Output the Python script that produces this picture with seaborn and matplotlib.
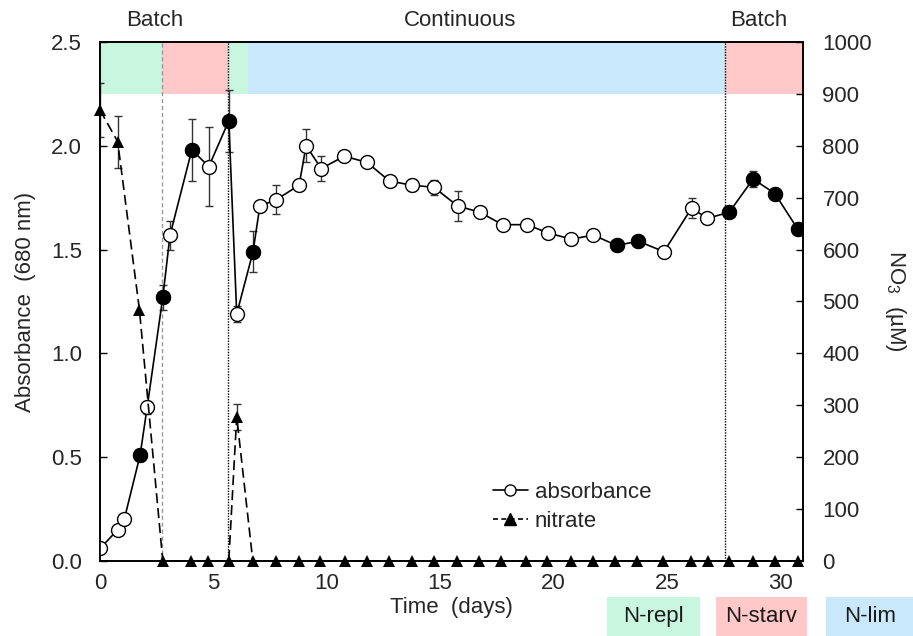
import numpy as np
import pandas as pd
from matplotlib import pyplot as plt
from matplotlib.lines import Line2D
from matplotlib.patches import Rectangle
import seaborn as sns

# absorbance (680 nm)
t_abs = [0, 0.78, 1.07, 1.77, 2.08, 2.77, 3.09, 4.05, 4.8, 5.68, 6.03, 6.75, 7.05, 7.77, 8.78,
         9.09, 9.76, 10.77, 11.77, 12.77, 13.76, 14.73, 15.77, 16.75, 17.75, 18.83, 19.76, 20.79,
         21.75, 22.78, 23.74, 24.87, 26.09, 26.78, 27.75, 28.8, 29.76, 30.76]
absorbance = [0.06, 0.15, 0.20, 0.51, 0.74, 1.27, 1.57, 1.98, 1.90, 2.12, 1.19, 1.49, 1.71, 1.74, 1.81,
              2.00, 1.89, 1.95, 1.92, 1.83, 1.81, 1.80, 1.71, 1.68, 1.62, 1.62, 1.58, 1.55,
              1.57, 1.52, 1.54, 1.49, 1.70, 1.65, 1.68, 1.84, 1.77, 1.60]
abs_err = [0, 0, 0, 0.03, 0.03, 0.06, 0.07, 0.15, 0.19, 0.15, 0.04, 0.10, 0, 0.07, 0,
           0.08, 0.06, 0, 0, 0, 0.03, 0.035, 0.07, 0.02, 0.02, 0, 0, 0,
           0, 0, 0, 0, 0.05, 0.02, 0, 0.04, 0, 0]
abs_filled = [0, 0, 0, 1, 0, 1, 0, 1, 0, 1, 0, 1, 0, 0, 0,
              0, 0, 0, 0, 0, 0, 0, 0, 0, 0, 0, 0, 0,
              0, 1, 1, 0, 0, 0, 1, 1, 1, 1]

# nitrate (uM)
t_no3 = [0, 0.78, 1.74, 2.77, 4.02, 4.78, 5.68, 6.03, 6.74, 7.77, 8.77, 9.72, 10.79, 11.77,
         12.73, 13.76, 14.72, 15.75, 16.73, 17.7, 18.79, 19.72, 20.79, 21.75, 22.71, 23.69,
         24.82, 26.05, 26.83, 27.74, 28.8, 29.77, 30.76]
nitrate = [869, 808, 484, 0, 0, 0, 0, 278, 0, 0, 0, 0, 0, 0,
           0, 0, 0, 0, 0, 0, 0, 0, 0, 0, 0, 0,
           0, 0, 0, 0, 0, 0, 0]
no3_err = [52, 50, 0, 0, 0, 0, 0, 25, 0, 0, 0, 0, 0, 0,
           0, 0, 0, 0, 0, 0, 0, 0, 0, 0, 0, 0,
           0, 0, 0, 0, 0, 0, 0]

# phases
phase_start = [0, 2.74, 5.65, 6.53, 27.55]
phase_end = [2.74, 5.65, 6.53, 27.55, 31]
phase_kind = ["N-repl", "N-starv", "N-repl", "N-lim", "N-starv"]
phase_colors = {"N-repl": "#c9f6de", "N-starv": "#ffc9c9", "N-lim": "#c9e8fb"}
mode_labels = ["Batch", "Continuous", "Batch"]
mode_x = [2.4, 15.9, 29.05]

df_abs = pd.DataFrame({"t": t_abs, "abs": absorbance, "err": abs_err, "filled": abs_filled})
df_no3 = pd.DataFrame({"t": t_no3, "no3": nitrate, "err": no3_err})

sns.set_style("white")
plt.rcParams["font.family"] = ["Liberation Sans", "DejaVu Sans"]
plt.rcParams["font.size"] = 16
plt.rcParams["mathtext.fontset"] = "custom"
plt.rcParams["mathtext.rm"] = "Liberation Sans"
plt.rcParams["mathtext.it"] = "Liberation Sans:italic"

FS = 16

fig = plt.figure(figsize=(9.13, 6.36), dpi=100)
ax = fig.add_axes([0.1095, 0.118, 0.77, 0.816])
ax2 = ax.twinx()

for x0, x1, k in zip(phase_start, phase_end, phase_kind):
    ax.axvspan(x0, x1, ymin=0.9, ymax=1, color=phase_colors[k], lw=0, zorder=0)
ax.axvline(2.74, color="#999999", lw=1, ls=(0, (3, 2)), zorder=1)
ax.axvline(5.65, color="black", lw=1, ls=(0, (1, 1)), zorder=1)
ax.axvline(27.55, color="black", lw=1, ls=(0, (1, 1)), zorder=1)

# absorbance
e = df_abs[df_abs["err"] > 0]
ax.errorbar(e["t"], e["abs"], yerr=e["err"], fmt="none", ecolor="#333333", elinewidth=1,
            capsize=3, capthick=1, zorder=2)
sns.lineplot(data=df_abs, x="t", y="abs", ax=ax, color="black", lw=1.2, marker="o",
             markersize=10, markerfacecolor="white", markeredgecolor="black",
             markeredgewidth=1, estimator=None, sort=False, zorder=3)
f = df_abs[df_abs["filled"] == 1]
ax.plot(f["t"], f["abs"], ls="none", marker="o", markersize=10, color="black", zorder=4)

# nitrate
e2 = df_no3[df_no3["err"] > 0]
ax2.errorbar(e2["t"], e2["no3"], yerr=e2["err"], fmt="none", ecolor="#333333", elinewidth=1,
             capsize=3, capthick=1, zorder=2)
sns.lineplot(data=df_no3, x="t", y="no3", ax=ax2, color="black", lw=1.2, ls=(0, (6, 3)),
             marker="^", markersize=9, markeredgewidth=0, estimator=None, sort=False,
             zorder=3, clip_on=False)

ax.set_xlim(0, 31)
ax.set_ylim(0, 2.5)
ax2.set_ylim(0, 1000)
ax.set_xticks([0, 5, 10, 15, 20, 25, 30])
ax.set_yticks([0, 0.5, 1.0, 1.5, 2.0, 2.5])
ax.set_yticklabels(["0.0", "0.5", "1.0", "1.5", "2.0", "2.5"])
ax2.set_yticks(range(0, 1001, 100))
for a in (ax, ax2):
    a.tick_params(direction="in", length=5, width=1, labelsize=FS, color="black")
    for s in a.spines.values():
        s.set_color("black")
        s.set_linewidth(1.2)
ax.tick_params(axis="x", pad=9)
ax.tick_params(axis="y", pad=13)
ax2.tick_params(axis="y", pad=14)

ax.set_xlabel("Time  (days)", fontsize=FS, labelpad=2)
ax.set_ylabel("Absorbance  (680 nm)", fontsize=FS, labelpad=11)
ax2.set_ylabel("NO$_\\mathregular{3}$  (\u00b5M)", fontsize=FS, rotation=270, labelpad=26)

for lab, xm in zip(mode_labels, mode_x):
    ax.text(xm, 1.022, lab, transform=ax.get_xaxis_transform(), ha="center", va="bottom",
            fontsize=FS)

handles = [Line2D([], [], color="black", lw=1.2, marker="o", markersize=8,
                  markerfacecolor="white", markeredgecolor="black"),
           Line2D([], [], color="black", lw=1.2, ls=(0, (3, 2)), marker="^", markersize=8)]
ax2.legend(handles, ["absorbance", "nitrate"], loc="center left", bbox_to_anchor=(0.53, 0.104),
           frameon=False, fontsize=FS, handlelength=1.6, handletextpad=0.3, labelspacing=0.35)

# phase key under the axes
for x0, w, k in zip([0.665, 0.784, 0.905], [0.102, 0.100, 0.095], ["N-repl", "N-starv", "N-lim"]):
    fig.patches.append(Rectangle((x0, 0), w, 0.061, transform=fig.transFigure,
                                 color=phase_colors[k], lw=0))
    fig.text(x0 + w / 2, 0.031, k, ha="center", va="center", fontsize=FS, color="#1a1a1a")

fig.savefig("out.png", dpi=100)
